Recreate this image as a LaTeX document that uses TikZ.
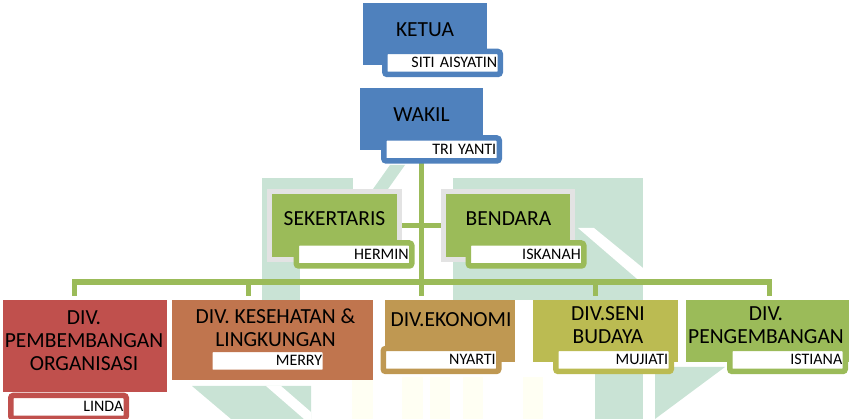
\documentclass[tikz,border=0pt]{standalone}
\usepackage{fontspec}
\setmainfont{Carlito}
\usepackage{tikz}
\usetikzlibrary{positioning,calc,backgrounds}

\definecolor{biru}{RGB}{79,129,189}
\definecolor{hijau}{RGB}{155,187,89}
\definecolor{merah}{RGB}{192,80,77}
\definecolor{coklat}{RGB}{192,117,78}
\definecolor{emas}{RGB}{191,152,82}
\definecolor{zaitun}{RGB}{187,187,82}
\definecolor{abu}{RGB}{227,227,227}
\definecolor{logo}{RGB}{201,227,213}
\definecolor{kuning}{RGB}{255,255,243}

\begin{document}
\begin{tikzpicture}[x=1pt,y=-1pt,
      box/.style={rectangle,inner sep=0pt,fill=#1},
      bingkai/.style={box=hijau,draw=abu,line width=5pt,minimum width=130pt,minimum height=68pt},
      jab/.style={inner sep=0pt,font=\fontsize{21.5}{23}\selectfont,align=center,anchor=base},
      nm/.style={rectangle,draw=#1,line width=5.5pt,rounded corners=2.5pt,fill=white,
                 inner xsep=3pt,inner ysep=0pt,minimum height=23pt,text width=109.5pt,align=right,
                 text height=10pt,text depth=0pt,font=\fontsize{16}{17}\selectfont},
      garis/.style={draw=hijau,line width=5.5pt}]
   \useasboundingbox (0,0) rectangle (849,419);
   % boxes
   \path (425,34)    node (ketua) [box=biru,minimum width=124pt,minimum height=62pt] {}
         (421.5,119) node (wakil) [box=biru,minimum width=123pt,minimum height=62pt] {}
         (334.5,225.5) node (sek)  [bingkai] {}
         (508,225.5)   node (bend) [bingkai,minimum width=129pt] {}
         (85,346)    node (org)  [box=merah,minimum width=164pt,minimum height=92pt] {}
         (272.5,340) node (kes)  [box=coklat,minimum width=201pt,minimum height=80pt] {}
         (450,331)   node (eko)  [box=emas,minimum width=130pt,minimum height=62pt] {}
         (605.5,331) node (seni) [box=zaitun,minimum width=145pt,minimum height=62pt] {}
         (767.5,331) node (peng) [box=hijau,minimum width=163pt,minimum height=62pt] {};
   % jabatan (base = last line)
   \node (ketuaT) at ($(ketua.north)+(0,34)$)   [jab] {KETUA};
   \node (wakilT) at ($(wakil.north)+(0,34)$)   [jab] {WAKIL};
   \node (sekT)   at ($(sek.north)+(0,36.5)$)   [jab] {SEKERTARIS};
   \node (bendT)  at ($(bend.north)+(0.5,36.5)$) [jab] {BENDARA};
   \node (orgT)   at ($(org.north)+(-1,71)$)    [jab] {DIV.\\PEMBEMBANGAN\\ORGANISASI};
   \node (kesT)   at ($(kes.north)+(3,47)$)     [jab] {DIV. KESEHATAN \&\\LINGKUNGAN};
   \node (ekoT)   at ($(eko.north)+(1,27)$)     [jab] {DIV.EKONOMI};
   \node (seniT)  at ($(seni.north)+(2.5,44)$)  [jab] {DIV.SENI\\BUDAYA};
   \node (pengT)  at ($(peng.north)+(-1.5,44)$) [jab] {DIV.\\PENGEMBANGAN};
   % nama
   \path (442.5,63)    node (ketuaN) [nm=biru]   {SITI AISYATIN}
         (441.5,149.5) node (wakilN) [nm=biru]   {TRI YANTI}
         (354,254.5)   node (sekN)   [nm=hijau]  {HERMIN}
         (526,254.5)   node (bendN)  [nm=hijau]  {ISKANAH}
         (68.5,407)    node (orgN)   [nm=merah]  {LINDA}
         (267.5,361)   node (kesN)   [nm=coklat] {MERRY}
         (441,360)     node (ekoN)   [nm=emas]   {NYARTI}
         (613.5,360)   node (seniN)  [nm=zaitun] {MUJIATI}
         (787.5,360)   node (pengN)  [nm=hijau]  {ISTIANA};
   \begin{pgfonlayer}{background}
      % logo
      \fill[logo] (262,178) rectangle (353,195);
      \fill[logo] (262,178) rectangle (300,300);
      \fill[logo] (373,189) -- (388,189) -- (405,165) -- (390,165) -- cycle;
      \fill[logo] (453,178) rectangle (643,300);
      \fill[white] (578,228) -- (594,228) -- (643,268) -- (643,284) -- cycle;
      \fill[logo] (192,386) -- (311,386) -- (311,419) -- (231,419) -- cycle;
      \fill[white] (266,386) -- (281,386) -- (311,412) -- (311,419) -- (304,419) -- cycle;
      \fill[logo] (595,367) rectangle (643,419);
      \fill[logo] (655,367) -- (725,367) -- (655,419) -- cycle;
      \foreach \xa/\xb in {352/373,402/423,430/450,463/483,523/543}
         \fill[kuning] (\xa,377) rectangle (\xb,419);
      % garis
      \coordinate (bus) at (421.5,282);
      \coordinate (d1) at (74.5,296);
      \coordinate (d2) at (248.5,296);
      \coordinate (d3) at (421.5,296);
      \coordinate (d4) at (595.5,296);
      \coordinate (d5) at (769.5,296);
      \draw[garis] (wakil.south) -- (bus);
      \draw[garis,yshift=2.5pt] (sek.east) -- (bend.west);
      \draw[garis] (d1) |- (bus) -| (d5);
      \foreach \d in {d2,d3,d4}
         \draw[garis] (\d) -- (\d |- bus);
   \end{pgfonlayer}
\end{tikzpicture}
\end{document}
